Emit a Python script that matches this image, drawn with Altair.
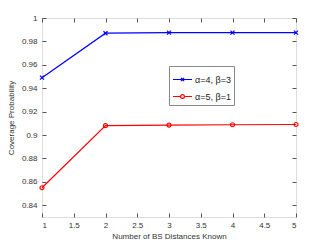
import altair as alt
import pandas as pd

x_vals = [1, 2, 3, 4, 5]
series_names = ["α=4, β=3", "α=5, β=1"]
blue_vals = [0.949, 0.987, 0.9875, 0.9875, 0.9875]
red_vals = [0.855, 0.908, 0.9085, 0.9088, 0.909]
x_ticks = [1, 1.5, 2, 2.5, 3, 3.5, 4, 4.5, 5]
y_ticks = [0.84, 0.86, 0.88, 0.9, 0.92, 0.94, 0.96, 0.98, 1.0]

rows = []
for xv, yv in zip(x_vals, blue_vals):
    rows.append({"x": xv, "y": yv, "series": series_names[0]})
for xv, yv in zip(x_vals, red_vals):
    rows.append({"x": xv, "y": yv, "series": series_names[1]})
df = pd.DataFrame(rows)

colors = ["#0000ff", "#ff0000"]
xdom = [1, 5]
ydom = [0.83, 1.0]
font = "Liberation Sans"

def xs(axis):
    return alt.X("x:Q", scale=alt.Scale(domain=xdom, nice=False, zero=False), axis=axis)

def ys(axis):
    return alt.Y("y:Q", scale=alt.Scale(domain=ydom, nice=False, zero=False), axis=axis)

main_x_axis = alt.Axis(orient="bottom", values=x_ticks, format=".1~f", tickSize=0, domain=False,
                       grid=False, labelPadding=4, labelFontSize=8, labelColor="#333",
                       title="Number of BS Distances Known", titleFontSize=8, titleFontWeight="normal",
                       titleColor="#333", titlePadding=3, labelFont=font, titleFont=font)
main_y_axis = alt.Axis(orient="left", values=y_ticks, format=".2~f", tickSize=0, domain=False,
                       grid=False, labelPadding=5, labelFontSize=8, labelColor="#333",
                       title="Coverage Probability", titleFontSize=8, titleFontWeight="normal",
                       titleColor="#333", titlePadding=6, labelFont=font, titleFont=font)

base = alt.Chart(df)

color_nolegend = alt.Color("series:N", scale=alt.Scale(domain=series_names, range=colors), legend=None)

lines = base.mark_line(strokeWidth=1.2).encode(x=xs(main_x_axis), y=ys(main_y_axis), color=color_nolegend)

xpath = "M-1,-1L1,1M-1,1L1,-1"
marks = base.mark_point(filled=False, size=16, strokeWidth=1.2, opacity=1).encode(
    x=xs(None), y=ys(None), color=color_nolegend,
    shape=alt.Shape("series:N", scale=alt.Scale(domain=series_names, range=[xpath, "circle"]), legend=None),
)

leg_x = "M-1,0H1M-0.16,-0.16L0.16,0.16M-0.16,0.16L0.16,-0.16"
leg_o = "M-1,0H-0.2M0.2,0H1M-0.2,0A0.2,0.2 0 1,0 0.2,0A0.2,0.2 0 1,0 -0.2,0"
legend = alt.Legend(orient="none", legendX=127, legendY=48, title=None, strokeColor="#888",
                    fillColor="white", padding=3, labelFontSize=9, labelFont=font, labelColor="#222",
                    symbolSize=361, symbolOpacity=1, symbolStrokeWidth=1.2, labelOffset=2, rowPadding=1)
leg = base.mark_point(filled=False, opacity=0).encode(
    x=xs(None), y=ys(None),
    color=alt.Color("series:N", scale=alt.Scale(domain=series_names, range=colors), legend=legend),
    shape=alt.Shape("series:N", scale=alt.Scale(domain=series_names, range=[leg_x, leg_o]), legend=legend),
)

tick_style = dict(tickSize=4, labels=False, domain=False, grid=False, title=None, tickColor="#555", offset=-4)
ticks_bl = base.mark_point(opacity=0).encode(
    x=xs(alt.Axis(orient="bottom", values=x_ticks, **tick_style)),
    y=ys(alt.Axis(orient="left", values=y_ticks, **tick_style)),
)
ticks_tr = base.mark_point(opacity=0).encode(
    x=xs(alt.Axis(orient="top", values=x_ticks, **tick_style)),
    y=ys(alt.Axis(orient="right", values=y_ticks, **tick_style)),
)

chart = alt.layer(lines, marks, leg, ticks_bl, ticks_tr).resolve_scale(
    x="independent", y="independent", shape="independent", color="independent"
).properties(
    width=254, height=199,
    autosize=alt.AutoSizeParams(type="none"),
    padding={"left": 34, "top": 10, "right": 20, "bottom": 28},
).configure_view(stroke="#666", strokeWidth=1).configure(background="white")

chart.save("out.html", embed_options={"renderer": "svg", "actions": False})
